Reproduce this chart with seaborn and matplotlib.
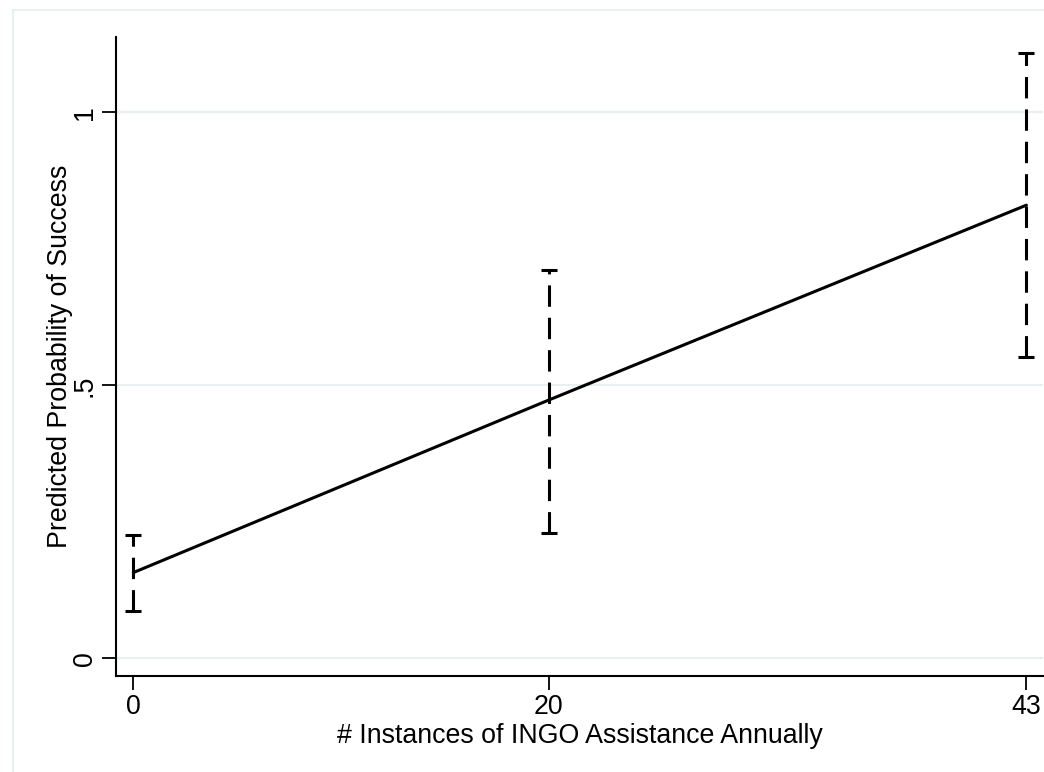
import matplotlib
matplotlib.use("Agg")
import matplotlib.pyplot as plt
import seaborn as sns
import pandas as pd
from matplotlib.patches import Rectangle

# Data
x_vals = [0, 20, 43]
pred = [0.157, 0.473, 0.830]
ci_low = [0.087, 0.230, 0.552]
ci_high = [0.226, 0.711, 1.108]
xtick_labels = ["0", "20", "43"]
ytick_vals = [0, 0.5, 1]
ytick_labels = ["0", ".5", "1"]

sns.set_theme(style="white")
plt.rcParams['font.family'] = ['Liberation Sans', 'DejaVu Sans']

fig = plt.figure(figsize=(10.44, 7.72), dpi=100)
fig.patch.set_facecolor("white")
# outer plot-region frame
fig.patches.append(Rectangle((13/1044, -0.2), 1.2, 1.2 - 10/772, transform=fig.transFigure,
                             fill=False, edgecolor="#e8eff1", linewidth=1.5, zorder=0))
ax = fig.add_axes([116/1044, 1 - 676/772, (1043 - 116)/1044, (676 - 37)/772])
ax.set_facecolor("white")

df = pd.DataFrame({"x": x_vals, "y": pred})
sns.lineplot(data=df, x="x", y="y", ax=ax, color="black", linewidth=2.2, zorder=3)

lo_err = [p - l for p, l in zip(pred, ci_low)]
hi_err = [h - p for p, h in zip(pred, ci_high)]
eb = ax.errorbar(x_vals, pred, yerr=[lo_err, hi_err], fmt="none", ecolor="black",
                 elinewidth=2.2, capsize=6, capthick=2.2, zorder=3)
for lc in eb[2]:
    lc.set_linestyle((0, (7, 3.6)))

ax.set_xlim(-0.833, 43.8)
ax.set_ylim(-0.0324, 1.138)
ax.set_xticks(x_vals)
ax.set_xticklabels(xtick_labels)
ax.set_yticks(ytick_vals)
ax.set_yticklabels(ytick_labels, rotation=90, va="center")
ax.grid(axis="y", color="#e8eff1", linewidth=1.5)
ax.grid(axis="x", visible=False)
ax.set_axisbelow(True)

for s in ["top", "right"]:
    ax.spines[s].set_visible(False)
for s in ["left", "bottom"]:
    ax.spines[s].set_color("black")
    ax.spines[s].set_linewidth(1.5)

ax.tick_params(axis="both", which="major", direction="out", length=10, width=1.3,
               color="black", labelsize=19.3, labelcolor="black",
               bottom=True, left=True)
ax.tick_params(axis="x", pad=3)
ax.tick_params(axis="y", pad=3)
ax.set_xlabel("# Instances of INGO Assistance Annually", fontsize=19.3, color="black", labelpad=2)
ax.set_ylabel("Predicted Probability of Success", fontsize=19.3, color="black", labelpad=-1)

fig.savefig("out.png", dpi=100, facecolor="white")
